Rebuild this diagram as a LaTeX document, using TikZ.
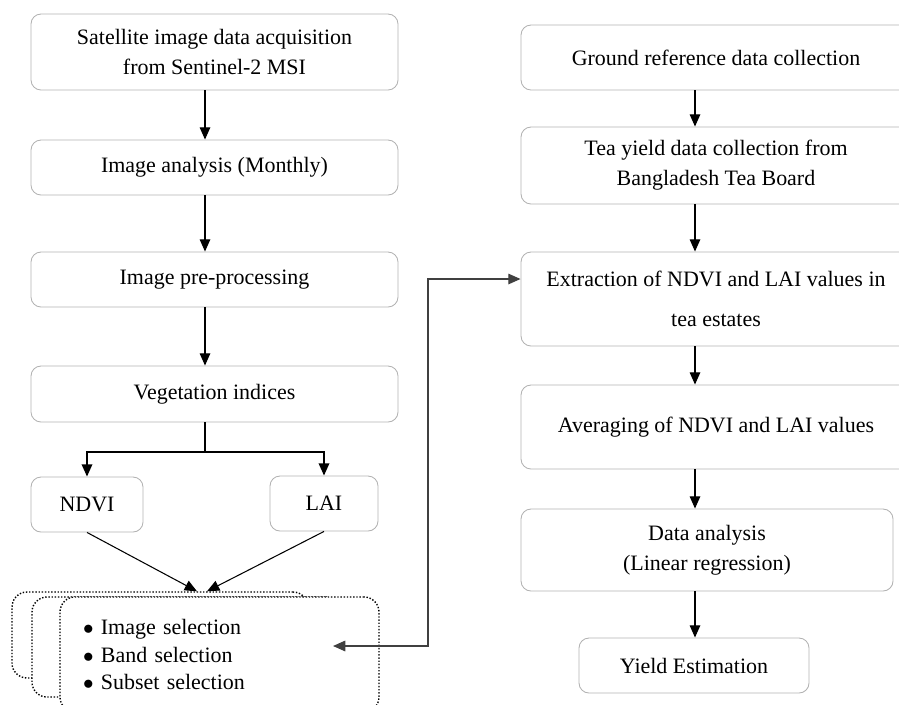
\documentclass[tikz,border=0pt]{standalone}
\usepackage{fontspec}
\setmainfont{Liberation Serif}
\usepackage{tikz}
\usetikzlibrary{positioning,calc,arrows.meta}

\begin{document}
\begin{tikzpicture}[
  procbox/.style={draw=gray!60, line width=0.5pt, rounded corners=0.2cm, align=center, inner sep=2pt,
    font=\fontsize{12.5}{17}\selectfont},
  stackbox/.style={draw=black, densely dotted, line width=0.8pt, rounded corners=0.3cm, fill=white},
  arr/.style={line width=0.8pt, >={Triangle[width=6pt,length=7pt]}, ->}
]
  % Frame
  \useasboundingbox (0,0) rectangle (17.98,-14.08);
  \clip (0,0) rectangle (17.98,-14.08);
  \coordinate (lspine) at (4.1,0);
  \coordinate (rspine) at (13.9,0);

  % Left column
  \node[procbox, minimum width=7.34cm, minimum height=1.52cm] (sat) at (4.29,-1.04)
    {Satellite image data acquisition\\from Sentinel-2 MSI};
  \node[procbox, minimum width=7.34cm, minimum height=1.1cm] (ana) at (4.29,-3.35) {Image analysis (Monthly)};
  \node[procbox, minimum width=7.34cm, minimum height=1.1cm] (pre) at (4.29,-5.59) {Image pre-processing};
  \node[procbox, minimum width=7.34cm, minimum height=1.12cm] (veg) at (4.29,-7.88) {Vegetation indices};
  \node[procbox, minimum width=2.24cm, minimum height=1.1cm] (ndvi) at (1.74,-10.09) {NDVI};
  \node[procbox, minimum width=2.16cm, minimum height=1.1cm] (lai) at (6.48,-10.07) {LAI};

  \draw[arr] (sat.south -| lspine) -- (ana.north -| lspine);
  \draw[arr] (ana.south -| lspine) -- (pre.north -| lspine);
  \draw[arr] (pre.south -| lspine) -- (veg.north -| lspine);
  \coordinate (fork) at (4.1,-9.04);
  \draw[line width=1pt] (veg.south -| lspine) -- (fork);
  \draw[arr, line width=1pt] (fork) -| (ndvi.north);
  \draw[arr, line width=1pt] (fork) -| (lai.north);

  % Stacked selection boxes
  \node[stackbox, minimum width=5.92cm, minimum height=1.72cm] (stacka) at (3.2,-12.7) {};
  \node[stackbox, minimum width=6.16cm, minimum height=2.0cm] (stackb) at (3.72,-12.94) {};
  \node[stackbox, minimum width=6.38cm, minimum height=2.3cm, text width=5.46cm, inner xsep=0.46cm,
    align=left, font=\fontsize{12.5}{15.6}\selectfont] (sel) at (4.39,-13.09)
    {$\bullet$\ Image selection\\$\bullet$\ Band selection\\$\bullet$\ Subset selection};
  \draw[arr, line width=0.6pt] (ndvi.south) -- ($(stacka.north)+(0.74,0)$);
  \draw[arr, line width=0.6pt] (lai.south) -- ($(stacka.north)+(0.94,0)$);

  % Right column
  \node[procbox, minimum width=7.8cm, minimum height=1.3cm] (grd) at (14.32,-1.15) {Ground reference data collection};
  \node[procbox, minimum width=7.8cm, minimum height=1.54cm] (tea) at (14.32,-3.31)
    {Tea yield data collection from\\Bangladesh Tea Board};
  \node[procbox, minimum width=7.8cm, minimum height=1.88cm] (ext) at (14.32,-5.98)
    {Extraction of NDVI and LAI values in\\[6pt]tea estates};
  \node[procbox, minimum width=7.8cm, minimum height=1.68cm] (avg) at (14.32,-8.54) {Averaging of NDVI and LAI values};
  \node[procbox, minimum width=7.44cm, minimum height=1.64cm] (dat) at (14.14,-11.0)
    {Data analysis\\(Linear regression)};
  \node[procbox, minimum width=4.6cm, minimum height=1.1cm] (yld) at (13.88,-13.31) {Yield Estimation};

  \draw[arr] (grd.south -| rspine) -- (tea.north -| rspine);
  \draw[arr] (tea.south -| rspine) -- (ext.north -| rspine);
  \draw[arr] (ext.south -| rspine) -- (avg.north -| rspine);
  \draw[arr] (avg.south -| rspine) -- (dat.north -| rspine);
  \draw[arr] (dat.south -| rspine) -- (yld.north -| rspine);

  % Link between selection and extraction
  \coordinate (selin) at (6.66,-12.92);
  \coordinate (extin) at (ext.west |- 0,-5.58);
  \draw[arr, <->, draw=black!75] (selin) -| (8.56,-5.58) -- (extin);
\end{tikzpicture}
\end{document}
